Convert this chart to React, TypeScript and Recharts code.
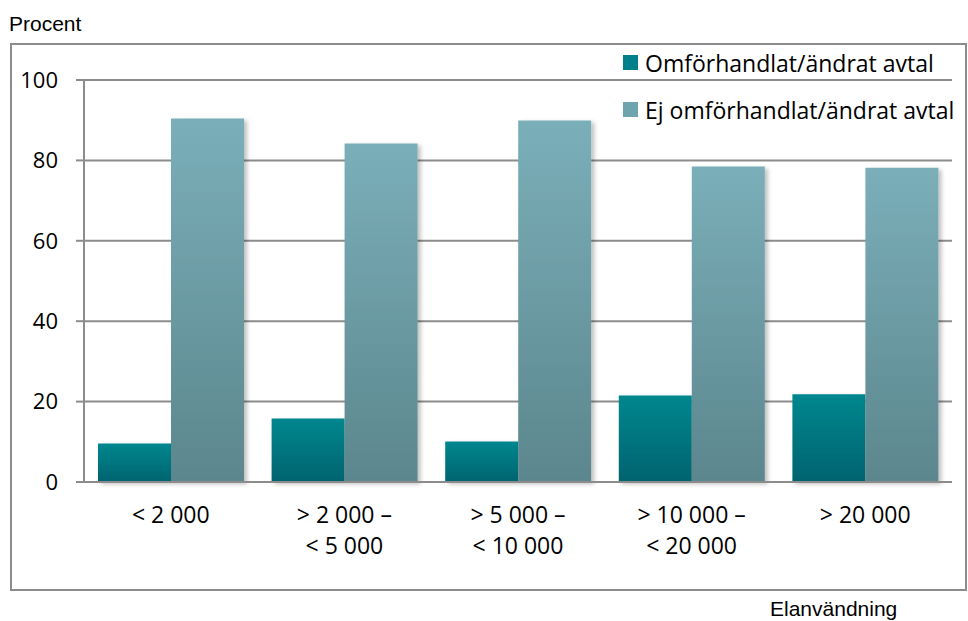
import React from "react";
import { BarChart, Bar, XAxis, YAxis, CartesianGrid } from "recharts";

const categories = ["< 2 000", "> 2 000 –\n< 5 000", "> 5 000 –\n< 10 000", "> 10 000 –\n< 20 000", "> 20 000"];
const omforhandlat = [9.6, 15.8, 10.1, 21.5, 21.8];
const ejOmforhandlat = [90.4, 84.2, 89.9, 78.5, 78.2];
const yTicks = [0, 20, 40, 60, 80, 100];

const seriesLabels = {
  omf: "Omförhandlat/ändrat avtal",
  ej: "Ej omförhandlat/ändrat avtal",
};

const calibriLike = "'Open Sans', Lato, sans-serif";
const arialLike = "'Liberation Sans', Arial, sans-serif";
const gray = "#8c8c8c";

const data = categories.map((c, i) => ({
  cat: c,
  omf: omforhandlat[i],
  ej: ejOmforhandlat[i],
}));

const XTick = ({ x, y, payload }: any) => {
  const lines = String(payload.value).split("\n");
  return (
    <text x={x} y={y + 33} textAnchor="middle" fontSize={23} fontFamily={calibriLike} fill="#000">
      {lines.map((l, i) => (
        <tspan key={i} x={x} dy={i === 0 ? 0 : 31}>
          {l}
        </tspan>
      ))}
    </text>
  );
};

// legend drawn as an overlay so it doesn't shrink the plot
const LegendBox = () => (
  <div style={{ position: "absolute", left: 623, top: 39, fontFamily: calibriLike, fontSize: 23, color: "#000" }}>
    {[
      { key: "omf", color: "#00808a" },
      { key: "ej", color: "#6fa3ad" },
    ].map((it) => (
      <div key={it.key} style={{ display: "flex", alignItems: "center", height: 47, whiteSpace: "nowrap" }}>
        <span style={{ width: 15, height: 15, background: it.color, display: "inline-block", marginRight: 7 }} />
        <span>{seriesLabels[it.key as keyof typeof seriesLabels]}</span>
      </div>
    ))}
  </div>
);

export default function App() {
  return (
    <div style={{ position: "absolute", left: 0, top: 0, width: 968, height: 621, background: "#fff" }}>
      <div
        style={{
          position: "absolute",
          left: 10,
          top: 43,
          width: 957,
          height: 548,
          border: `2px solid ${gray}`,
          boxSizing: "border-box",
        }}
      />
      <div style={{ position: "absolute", left: 9, top: 12, fontFamily: arialLike, fontSize: 21 }}>Procent</div>
      <div style={{ position: "absolute", left: 770, top: 597, fontFamily: arialLike, fontSize: 21 }}>Elanvändning</div>
      <div style={{ position: "absolute", left: 0, top: 0 }}>
        <BarChart
          width={968}
          height={621}
          data={data}
          margin={{ top: 80, right: 16, bottom: 109, left: 0 }}
          barCategoryGap={14}
          barGap={0}
        >
          <defs>
            <linearGradient id="gOmf" x1="0" y1="0" x2="0" y2="1">
              <stop offset="0%" stopColor="#00878f" />
              <stop offset="100%" stopColor="#00636e" />
            </linearGradient>
            <linearGradient id="gEj" x1="0" y1="0" x2="0" y2="1">
              <stop offset="0%" stopColor="#7aafb9" />
              <stop offset="100%" stopColor="#5c868d" />
            </linearGradient>
            <filter id="shadow" x="-10%" y="-10%" width="130%" height="130%">
              <feDropShadow dx="3" dy="2" stdDeviation="2" floodColor="#000" floodOpacity="0.25" />
            </filter>
          </defs>
          <CartesianGrid vertical={false} stroke={gray} strokeWidth={2} />
          <XAxis
            dataKey="cat"
            height={30}
            axisLine={{ stroke: gray, strokeWidth: 2 }}
            tickLine={false}
            tick={<XTick />}
            interval={0}
          />
          <YAxis
            width={84}
            domain={[0, 100]}
            ticks={yTicks}
            axisLine={{ stroke: gray, strokeWidth: 2 }}
            tickLine={{ stroke: gray, strokeWidth: 2 }}
            tickSize={8}
            tickMargin={18}
            tick={{ fontSize: 22, fontFamily: calibriLike, fill: "#000" }}
          />
          <Bar dataKey="omf" name="omf" fill="url(#gOmf)" filter="url(#shadow)" isAnimationActive={false} />
          <Bar dataKey="ej" name="ej" fill="url(#gEj)" filter="url(#shadow)" isAnimationActive={false} />
        </BarChart>
      </div>
      <LegendBox />
    </div>
  );
}
